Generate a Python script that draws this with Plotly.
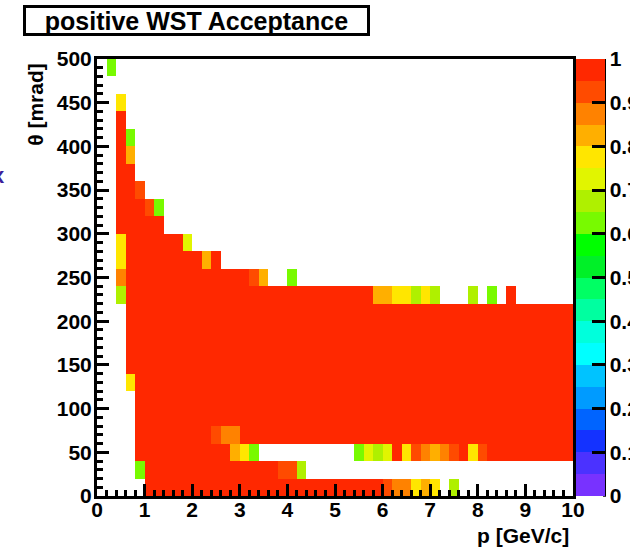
import numpy as np
import plotly.graph_objects as go

# Binning: momentum 0-10 GeV/c in 0.2 GeV/c steps, polar angle 0-500 mrad in 20 mrad steps
p_edges = np.round(np.arange(0, 10.0001, 0.2), 3)
theta_edges = np.arange(0, 501, 20)
p_centers = (p_edges[:-1] + p_edges[1:]) / 2
theta_centers = (theta_edges[:-1] + theta_edges[1:]) / 2

# Acceptance code per bin -> acceptance value ('.' = empty bin)
ACC_CODE = {'#': 1.00, 'o': 0.93, 'O': 0.88, 'a': 0.83, 'y': 0.78,
            'l': 0.73, 'g': 0.68, 'G': 0.63}

# One string per theta bin, from 480-500 mrad (top) down to 0-20 mrad;
# one character per momentum bin
acc_rows = [
    ".G................................................",  # 480-500
    "..................................................",  # 460-480
    "..y...............................................",  # 440-460
    "..#...............................................",  # 420-440
    "..#G..............................................",  # 400-420
    "..#a..............................................",  # 380-400
    "..##..............................................",  # 360-380
    "..##o.............................................",  # 340-360
    "..###oG...........................................",  # 320-340
    "..#####...........................................",  # 300-320
    "..y######l........................................",  # 280-300
    "..y########a#.....................................",  # 260-280
    "..O#############oa..G.............................",  # 240-260
    "..g##########################aayygyg...g.G.#......",  # 220-240
    "...###############################################",  # 200-220
    "...###############################################",  # 180-200
    "...###############################################",  # 160-180
    "...###############################################",  # 140-160
    "...y##############################################",  # 120-140
    "....##############################################",  # 100-120
    "....##############################################",  # 80-100
    "....########oOO###################################",  # 60-80
    "....##########ayG..........Glgl#yoOaOo#yo#########",  # 40-60
    "....G##############oog............................",  # 20-40
    ".....#########################oOOyay.g............",  # 0-20
]

# Palette: 20 contour bands from 0 to 1
band_colors = [
    "#7832FF", "#4B32FF", "#1432FF", "#0064FF", "#009BFF",
    "#00C3FF", "#00FFFF", "#00FFDC", "#00FFA0", "#00FF64",
    "#00F028", "#00FF00", "#78FA00", "#AFF000", "#E1F500",
    "#FFE600", "#FFAF00", "#FF8200", "#FF4B00", "#FF2800",
]

z = [[ACC_CODE.get(ch) for ch in row] for row in reversed(acc_rows)]

nb = len(band_colors)
colorscale = []
for k, c in enumerate(band_colors):
    colorscale.append([k / nb, c])
    colorscale.append([(k + 1) / nb, c])

FONT = "Liberation Sans"

fig = go.Figure(go.Heatmap(
    x=p_centers, y=theta_centers, z=z,
    zmin=0, zmax=1, colorscale=colorscale,
    xgap=0, ygap=0, hoverongaps=False,
    colorbar=dict(
        x=1.0057, xanchor="left", xpad=0, ypad=0,
        y=0.5, yanchor="middle", len=1.0, lenmode="fraction",
        thickness=29, thicknessmode="pixels",
        outlinewidth=0,
        tick0=0, dtick=0.1, ticks="inside", ticklen=13, tickwidth=3,
        tickcolor="black",
        tickfont=dict(family=FONT, size=21, color="black", weight="bold"),
    ),
))

axis_common = dict(
    showline=True, linecolor="black", linewidth=3, mirror=True,
    ticks="inside", tickcolor="black", tickwidth=2.5,
    showgrid=False, zeroline=False,
    tickfont=dict(family=FONT, size=21, color="black", weight="bold"),
)

fig.update_xaxes(range=[0, 10], tick0=0, dtick=1, ticklen=12,
                 ticklabelstandoff=-7,
                 minor=dict(dtick=0.2, ticks="inside", ticklen=6,
                            tickwidth=2.5, tickcolor="black", showgrid=False),
                 **axis_common)
fig.update_yaxes(range=[0, 500], tick0=0, dtick=50, ticklen=12,
                 ticklabelstandoff=-2,
                 minor=dict(dtick=10, ticks="inside", ticklen=6,
                            tickwidth=2.5, tickcolor="black", showgrid=False),
                 **axis_common)

# Palette axis line on the right side of the colour bar
fig.add_shape(type="line", xref="paper", yref="paper",
              x0=1.0662, x1=1.0662, y0=-0.002, y1=1.0,
              line=dict(color="black", width=3))

fig.add_annotation(text="positive WST Acceptance", xref="paper", yref="paper",
                   x=0.2086, y=1.0881, xanchor="center", yanchor="middle",
                   showarrow=False, width=341, height=25,
                   bordercolor="black", borderwidth=3, borderpad=0, bgcolor="white",
                   font=dict(family=FONT, size=25, color="black", weight="bold"))
fig.add_annotation(text="p [GeV/c]", xref="paper", yref="paper",
                   x=0.9958, y=-0.0915, xanchor="right", yanchor="middle",
                   showarrow=False,
                   font=dict(family=FONT, size=21, color="black", weight="bold"))
fig.add_annotation(text="θ [mrad]", xref="paper", yref="paper",
                   x=-0.128, y=0.995, xanchor="center", yanchor="top",
                   textangle=-90, showarrow=False,
                   font=dict(family=FONT, size=21, color="black", weight="bold"))
fig.add_annotation(text="x", xref="paper", yref="paper",
                   x=-0.2059, y=0.7323, xanchor="center", yanchor="middle",
                   showarrow=False,
                   font=dict(family=FONT, size=22, color="#3B1F9B", weight="bold"))

fig.update_layout(
    width=630, height=548,
    margin=dict(l=97, r=57, t=59, b=52, autoexpand=False),
    paper_bgcolor="white", plot_bgcolor="white",
    showlegend=False,
)

fig.write_html("out.html")
